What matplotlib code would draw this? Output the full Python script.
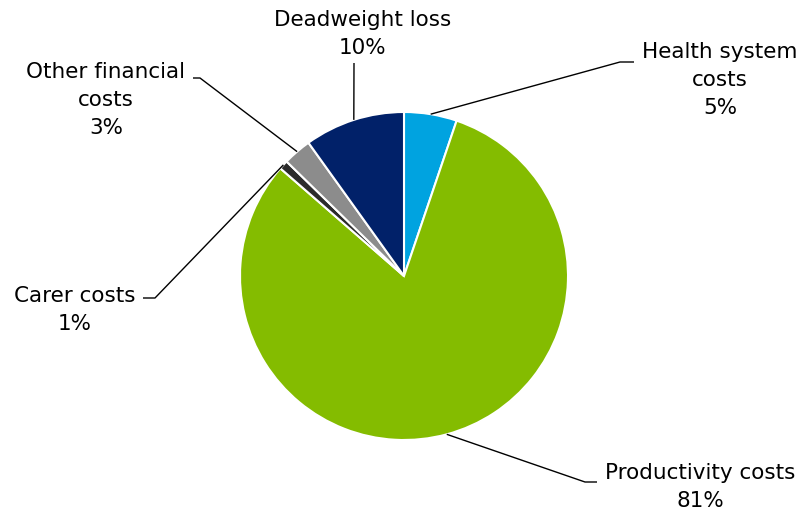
import matplotlib
matplotlib.use("Agg")
import matplotlib.pyplot as plt
import numpy as np

categories = ["Health system\ncosts", "Productivity costs", "Carer costs",
              "Other financial\ncosts", "Deadweight loss"]
values = [5.2, 81.2, 0.9, 2.8, 9.9]
pct_labels = ["5%", "81%", "1%", "3%", "10%"]
colors = ["#00A3E0", "#84BC00", "#2B2B2B", "#8C8C8C", "#012169"]

W, H = 803, 515
fig = plt.figure(figsize=(W / 100, H / 100), dpi=100)
ax = fig.add_axes([0, 0, 1, 1])

# pixel-style layout (y measured from top), converted to data coords (y up)
cx, cy, R = 404, 276, 164

wedges, _ = ax.pie(values, colors=colors, startangle=90, counterclock=False,
                   center=(cx, H - cy), radius=R, frame=True,
                   wedgeprops=dict(edgecolor="white", linewidth=1.5))
ax.set_xlim(0, W)
ax.set_ylim(0, H)
ax.set_aspect("equal")
ax.axis("off")

# label layout (pixels from top): text center x, text block center y,
# elbow x, elbow y, tick end x
layout = [
    (720, 80, 620, 62, 634),
    (700, 487, 585, 482, 597),
    (75, 310, 155, 298, 143),
    (106, 100, 200, 78, 193),
    (363, 34, 354, 63, 354),
]

fs = 15.5
for w, cat, pl, (tx, ty, ex, ey, tk) in zip(wedges, categories, pct_labels, layout):
    mid = np.deg2rad((w.theta1 + w.theta2) / 2)
    px = cx + R * np.cos(mid)
    py = (H - cy) + R * np.sin(mid)
    ax.plot([px, ex, tk], [py, H - ey, H - ey], color="black", lw=1.0,
            solid_capstyle="butt", zorder=5)
    ax.text(tx, H - ty, cat + "\n" + pl, ha="center", va="center", fontsize=fs,
            family="DejaVu Sans", linespacing=1.5, color="black")

fig.savefig("out.png", dpi=100)
